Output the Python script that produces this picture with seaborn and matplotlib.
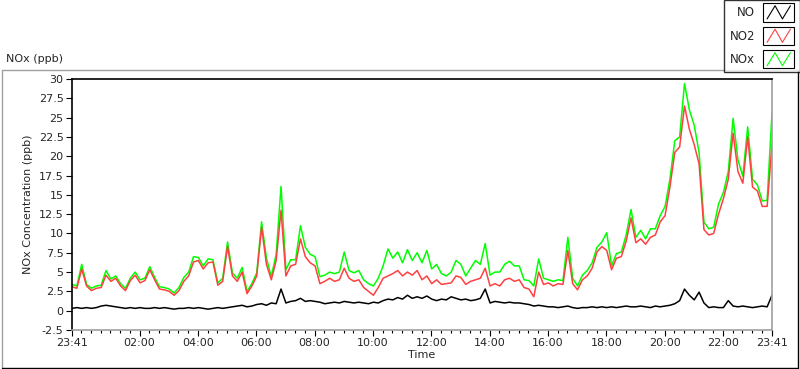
import matplotlib
matplotlib.use("Agg")
import matplotlib.pyplot as plt
import numpy as np
import pandas as pd
import seaborn as sns
from matplotlib.legend_handler import HandlerBase
from matplotlib.lines import Line2D
from matplotlib.patches import Rectangle
from matplotlib.ticker import FixedLocator, MultipleLocator

# samples every 10 min, starting 23:41 the evening before (hours relative to midnight)
start_hour = -(19 / 60)
step_hours = 10 / 60

no_ppb = [
    0.3, 0.4, 0.3, 0.4, 0.3, 0.4,
    0.6, 0.7, 0.6, 0.5, 0.4, 0.3,
    0.4, 0.3, 0.4, 0.3, 0.3, 0.4,
    0.3, 0.4, 0.3, 0.2, 0.3, 0.3,
    0.4, 0.3, 0.4, 0.3, 0.2, 0.3,
    0.4, 0.3, 0.4, 0.5, 0.6, 0.7,
    0.5, 0.6, 0.8, 0.9, 0.7, 1.0,
    0.9, 2.8, 1.0, 1.2, 1.3, 1.6,
    1.2, 1.3, 1.2, 1.1, 0.9, 1.0,
    1.1, 1.0, 1.2, 1.1, 1.0, 1.1,
    1.0, 0.9, 1.1, 1.0, 1.3, 1.5,
    1.4, 1.7, 1.5, 2.0, 1.6, 1.8,
    1.6, 1.9, 1.5, 1.3, 1.5, 1.4,
    1.8, 1.6, 1.4, 1.5, 1.3, 1.4,
    1.6, 2.8, 1.0, 1.2, 1.1, 1.0,
    1.1, 1.0, 1.0, 0.9, 0.8, 0.6,
    0.7, 0.6, 0.5, 0.5, 0.4, 0.5,
    0.6, 0.4, 0.3, 0.4, 0.4, 0.5,
    0.4, 0.5, 0.4, 0.5, 0.4, 0.5,
    0.6, 0.5, 0.5, 0.6, 0.5, 0.4,
    0.6, 0.5, 0.6, 0.7, 0.9, 1.3,
    2.8, 2.0, 1.4, 2.4, 1.0, 0.4,
    0.5, 0.4, 0.4, 1.3, 0.6, 0.5,
    0.6, 0.5, 0.4, 0.5, 0.6, 0.5,
    2.0,
]

no2_ppb = [
    3.1, 2.9, 5.4, 3.2, 2.6, 2.9,
    3.0, 4.6, 3.8, 4.2, 3.2, 2.6,
    3.9, 4.6, 3.6, 3.9, 5.3, 4.0,
    2.8, 2.7, 2.5, 2.0, 2.6, 3.8,
    4.5, 6.3, 6.5, 5.4, 6.2, 6.3,
    3.3, 3.8, 8.3, 4.5, 3.8, 5.0,
    2.2, 3.2, 4.5, 10.8, 6.0, 4.0,
    6.5, 13.0, 4.5, 5.8, 6.0, 9.3,
    7.0, 6.2, 5.8, 3.5, 3.8, 4.2,
    3.8, 4.0, 5.5, 4.2, 3.8, 4.0,
    3.0, 2.5, 2.0, 3.0, 4.2, 4.5,
    4.8, 5.2, 4.5, 5.0, 4.6, 5.2,
    4.0, 4.5, 3.5, 4.0, 3.4, 3.5,
    3.6, 4.5, 4.3, 3.4, 3.8, 4.0,
    4.2, 5.5, 3.2, 3.5, 3.2, 4.0,
    4.2, 3.8, 4.0, 3.0, 2.8, 1.8,
    5.0, 3.4, 3.6, 3.2, 3.5, 3.4,
    7.8, 3.5, 2.7, 4.0, 4.5, 5.5,
    7.6, 8.3, 7.8, 5.3, 6.8, 7.0,
    9.0, 12.0, 8.8, 9.3, 8.6, 9.5,
    9.8, 11.5, 12.3, 16.0, 20.5, 21.2,
    26.5, 23.5, 21.5, 19.0, 10.5, 9.8,
    10.0, 12.5, 14.5, 17.0, 23.0, 18.0,
    16.5, 22.5, 16.0, 15.5, 13.5, 13.5,
    21.5,
]

nox_ppb = [
    3.4, 3.2, 6.0, 3.4, 2.9, 3.2,
    3.3, 5.2, 4.1, 4.5, 3.5, 2.9,
    4.2, 5.0, 4.0, 4.2, 5.7, 4.3,
    3.1, 3.0, 2.8, 2.3, 3.0, 4.3,
    5.0, 7.0, 6.9, 5.8, 6.7, 6.6,
    3.6, 4.2, 8.9, 4.9, 4.2, 5.6,
    2.5, 3.5, 4.9, 11.5, 6.8, 4.4,
    7.3, 16.1, 5.3, 6.6, 6.6, 11.0,
    8.2, 7.3, 7.0, 4.4, 4.6, 5.0,
    4.8, 5.0, 7.6, 5.2, 4.9, 5.2,
    4.0, 3.5, 3.2, 4.2, 5.8, 8.0,
    6.8, 7.6, 6.2, 7.9, 6.5, 7.5,
    6.2, 7.8, 5.4, 6.0, 4.8, 4.5,
    5.0, 6.5, 6.0, 4.5, 5.5, 6.5,
    6.0, 8.7, 4.6, 5.0, 5.0, 6.0,
    6.4, 5.8, 5.8, 4.0, 3.9, 3.2,
    6.7, 4.2, 4.0, 3.8, 4.0, 3.9,
    9.5, 4.2, 3.2, 4.6, 5.2, 6.2,
    8.2, 8.9, 10.1, 5.8, 7.4, 7.6,
    9.8, 13.1, 9.5, 10.4, 9.3, 10.6,
    10.6, 12.3, 13.5, 17.0, 22.0, 22.5,
    29.4, 26.0, 24.0, 20.5, 11.5, 10.6,
    10.8, 13.8, 15.3, 18.0, 24.9, 19.5,
    17.4, 23.8, 17.0, 16.3, 14.2, 14.3,
    25.6,
]

series_names = ["NO", "NO2", "NOx"]
series_colors = ["#000000", "#ff4040", "#00ff00"]

hours = start_hour + step_hours * np.arange(len(no_ppb))
df = pd.DataFrame({"hour": hours, "NO": no_ppb, "NO2": no2_ppb, "NOx": nox_ppb})
long_df = df.melt(id_vars="hour", var_name="series", value_name="ppb")

major_ticks = [start_hour] + list(range(2, 24, 2)) + [start_hour + 24]
major_labels = ["23:41"] + [f"{h:02d}:00" for h in range(2, 24, 2)] + ["23:41"]


class ZigZagHandler(HandlerBase):
    def create_artists(self, legend, orig_handle, xdescent, ydescent,
                       width, height, fontsize, trans):
        box = Rectangle((-xdescent, -ydescent - 2), width, height + 4,
                        facecolor="white", edgecolor="black", lw=0.8, transform=trans)
        fx = np.array([0.12, 0.38, 0.62, 0.88])
        fy = np.array([0.08, 0.92, 0.08, 0.92])
        zig = Line2D(-xdescent + fx * width, -ydescent - 1 + fy * (height + 2),
                     color=orig_handle.get_color(), lw=0.8, transform=trans)
        return [box, zig]


sns.set_style("white")
plt.rcParams["font.family"] = ["DejaVu Sans"]
plt.rcParams["font.size"] = 8

fig = plt.figure(figsize=(8, 3.69), dpi=100)
ax = fig.add_axes([0.09, 0.1057, 0.875, 0.6803])

# NOx first so NO2 sits on top of it, then NO
for name in ["NOx", "NO2", "NO"]:
    sub = long_df[long_df["series"] == name]
    sns.lineplot(data=sub, x="hour", y="ppb", ax=ax,
                 color=series_colors[series_names.index(name)], lw=1.1, legend=False)

ax.set_xlim(start_hour, start_hour + 24)
ax.set_ylim(-2.5, 30)
ax.xaxis.set_major_locator(FixedLocator(major_ticks))
ax.set_xticklabels(major_labels)
ax.xaxis.set_minor_locator(FixedLocator(np.arange(0, 24, 1 / 3)))
ax.yaxis.set_major_locator(MultipleLocator(2.5))
ax.set_yticklabels([f"{v:g}" for v in ax.get_yticks()])
ax.tick_params(axis="both", which="major", direction="out", length=4, width=0.8,
               color="black", labelsize=8, bottom=True, left=True, pad=2)
ax.tick_params(axis="x", which="minor", direction="out", length=2.5, width=0.8,
               color="black", bottom=True)
ax.set_xlabel("Time", fontsize=8, labelpad=1)
ax.set_ylabel("NOx Concentration (ppb)", fontsize=8, labelpad=4)

for side in ["top", "left"]:
    ax.spines[side].set_color("black")
    ax.spines[side].set_linewidth(1.2)
for side in ["bottom", "right"]:
    ax.spines[side].set_color("#a0a0a0")
    ax.spines[side].set_linewidth(1.2)

fig.text(6 / 800, 1 - 59 / 369, "NOx (ppb)", fontsize=8, va="center", ha="left")

# sunken outer frame
fx0, fx1 = 1.5 / 800, 797.5 / 800
fy0, fy1 = 1 - 367.5 / 369, 1 - 69.5 / 369
fig.add_artist(Line2D([fx0, fx1], [fy1, fy1], color="#a0a0a0", lw=1.0))
fig.add_artist(Line2D([fx0, fx0], [fy0, fy1], color="#a0a0a0", lw=1.0))
fig.add_artist(Line2D([fx0, fx1], [fy0, fy0], color="black", lw=1.0))
fig.add_artist(Line2D([fx1, fx1], [fy0, fy1], color="black", lw=1.0))

handles = [Line2D([], [], color=c) for c in series_colors]
leg = fig.legend(handles, series_names, loc="upper right",
                 bbox_to_anchor=(1.0, 1.0), markerfirst=False, frameon=True,
                 fancybox=False, fontsize=8.5, handlelength=2.6, handleheight=1.3,
                 labelspacing=0.85, handletextpad=0.7, borderpad=0.5,
                 borderaxespad=0.0, handler_map={Line2D: ZigZagHandler()})
leg.get_frame().set_edgecolor("black")
leg.get_frame().set_linewidth(1.0)
leg.set_zorder(5)

fig.savefig("out.png", dpi=100, facecolor="white")
